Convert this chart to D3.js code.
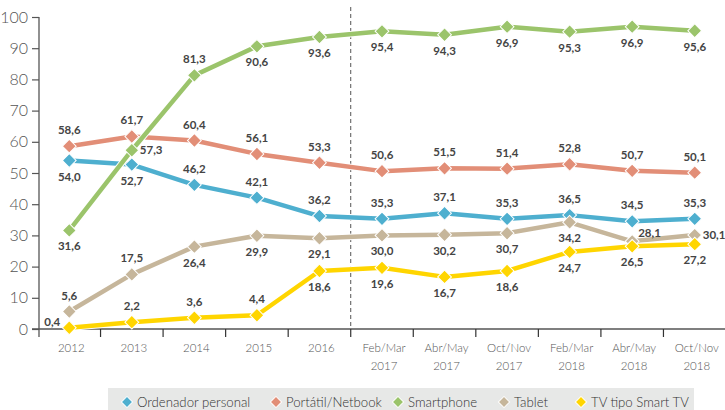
<!DOCTYPE html>
<html><head><meta charset="utf-8">
<script src="https://cdn.jsdelivr.net/npm/d3@7/dist/d3.min.js"></script>
<style>
body{margin:0;background:#fff;}
svg{display:block;font-family:Lato,"Open Sans",sans-serif;}
</style></head>
<body><svg id="c" width="725" height="410"></svg>
<script>
const categories = ["2012","2013","2014","2015","2016","Feb/Mar\n2017","Abr/May\n2017","Oct/Nov\n2017","Feb/Mar\n2018","Abr/May\n2018","Oct/Nov\n2018"];
const seriesNames = ["Ordenador personal","Portátil/Netbook","Smartphone","Tablet","TV tipo Smart TV"];
const ordenador = [54.0,52.7,46.2,42.1,36.2,35.3,37.1,35.3,36.5,34.5,35.3];
const portatil  = [58.6,61.7,60.4,56.1,53.3,50.6,51.5,51.4,52.8,50.7,50.1];
const smartphone= [31.6,57.3,81.3,90.6,93.6,95.4,94.3,96.9,95.3,96.9,95.6];
const tablet    = [5.6,17.5,26.4,29.9,29.1,30.0,30.2,30.7,34.2,28.1,30.1];
const smarttv   = [0.4,2.2,3.6,4.4,18.6,19.6,16.7,18.6,24.7,26.5,27.2];
const yTicks = [0,10,20,30,40,50,60,70,80,90,100];

// label placement: a=above, b=below, r=right, l=left, ur=upper right
const labelPos = [
  ["b","b","a","a","a","a","a","a","a","a","a"],
  ["a","a","a","a","a","a","a","a","a","a","a"],
  ["b","r","a","b","b","b","b","b","b","b","b"],
  ["a","a","b","b","b","b","b","b","b","ur","r"],
  ["l","a","a","a","b","b","b","b","b","b","b"]
];
const colors = ["#4eafcf","#e28e77","#9bc46b","#c6b69b","#ffd500"];
const allSeries = [ordenador,portatil,smartphone,tablet,smarttv];

const svg = d3.select("#c");
const x = d3.scaleBand().domain(categories).range([38,726]);
const y = d3.scaleLinear().domain([0,100]).range([329,17]);
const cx = c => x(c) + x.bandwidth()/2;

// x axis
const xAxis = d3.axisBottom(x).tickSize(0).tickFormat("");
const gx = svg.append("g").attr("transform","translate(0,329)").call(xAxis);
gx.select(".domain").remove();
svg.append("line").attr("x1",32).attr("x2",726).attr("y1",329).attr("y2",329).attr("stroke","#555").attr("stroke-width",1.3);
categories.forEach((c,i)=>{
  if(i>0) svg.append("line").attr("x1",x(c)).attr("x2",x(c)).attr("y1",329).attr("y2",337).attr("stroke","#333").attr("stroke-width",1.2);
  const lines = c.split("\n");
  lines.forEach((t,j)=>{
    svg.append("text").attr("x",cx(c)+2).attr("y",352+j*18).attr("text-anchor","middle")
      .attr("font-size",11.5).attr("font-weight",300).attr("fill","#555").text(t);
  });
});
svg.append("line").attr("x1",726).attr("x2",726).attr("y1",329).attr("y2",337).attr("stroke","#333").attr("stroke-width",1.2);

// y axis
const yAxis = d3.axisLeft(y).tickValues(yTicks).tickSize(7).tickPadding(4);
const gy = svg.append("g").attr("transform","translate(39,0)").call(yAxis);
gy.select(".domain").remove();
gy.selectAll(".tick line").attr("stroke","#555").attr("stroke-width",1.2);
gy.selectAll(".tick text").attr("font-size",16).attr("font-weight",300).attr("fill","#555").attr("font-family","Lato,'Open Sans',sans-serif");
svg.append("line").attr("x1",39).attr("x2",39).attr("y1",17).attr("y2",337).attr("stroke","#555").attr("stroke-width",1.3);

// dashed separator
const sep = x(categories[5]);
svg.append("line").attr("x1",sep).attr("x2",sep).attr("y1",7).attr("y2",329)
  .attr("stroke","#555").attr("stroke-width",1).attr("stroke-dasharray","4,3");

const line = d3.line().x((d,i)=>cx(categories[i])).y(d=>y(d));

allSeries.forEach((s,k)=>{
  svg.append("path").datum(s).attr("d",line).attr("fill","none")
    .attr("stroke","#fff").attr("stroke-width",6.5).attr("stroke-linejoin","round");
  svg.append("path").datum(s).attr("d",line).attr("fill","none")
    .attr("stroke",colors[k]).attr("stroke-width",4.5).attr("stroke-linejoin","round");
});
allSeries.forEach((s,k)=>{
  svg.selectAll(null).data(s).enter().append("path")
    .attr("d",d3.symbol().type(d3.symbolSquare).size(95))
    .attr("transform",(d,i)=>`translate(${cx(categories[i])},${y(d)}) rotate(45)`)
    .attr("fill",colors[k]).attr("stroke","#fff").attr("stroke-width",1);
});
allSeries.forEach((s,k)=>{
  s.forEach((v,i)=>{
    const p = labelPos[k][i];
    let dx=0, dy=0, anchor="middle";
    if(p==="a"){dy=-12;}
    else if(p==="b"){dy=20;}
    else if(p==="r"){dx=8; dy=4; anchor="start";}
    else if(p==="l"){dx=-9; dy=-2; anchor="end";}
    else if(p==="ur"){dx=6; dy=-4; anchor="start";}
    svg.append("text").attr("x",cx(categories[i])+dx).attr("y",y(v)+dy)
      .attr("text-anchor",anchor).attr("font-size",11.5).attr("font-weight",700)
      .attr("fill","#444").text(v.toFixed(1).replace(".",","));
  });
});

// legend
svg.append("rect").attr("x",108).attr("y",388).attr("width",586).attr("height",22).attr("fill","#e7e8e7");
const legX = [127,276,398,504,581];
seriesNames.forEach((n,k)=>{
  svg.append("path").attr("d",d3.symbol().type(d3.symbolSquare).size(64))
    .attr("transform",`translate(${legX[k]},402) rotate(45)`)
    .attr("fill",colors[k]).attr("stroke","#fff").attr("stroke-width",1);
  svg.append("text").attr("x",legX[k]+10).attr("y",407).attr("font-size",13.2)
    .attr("font-weight",300).attr("fill","#333").text(n);
});
</script></body></html>
